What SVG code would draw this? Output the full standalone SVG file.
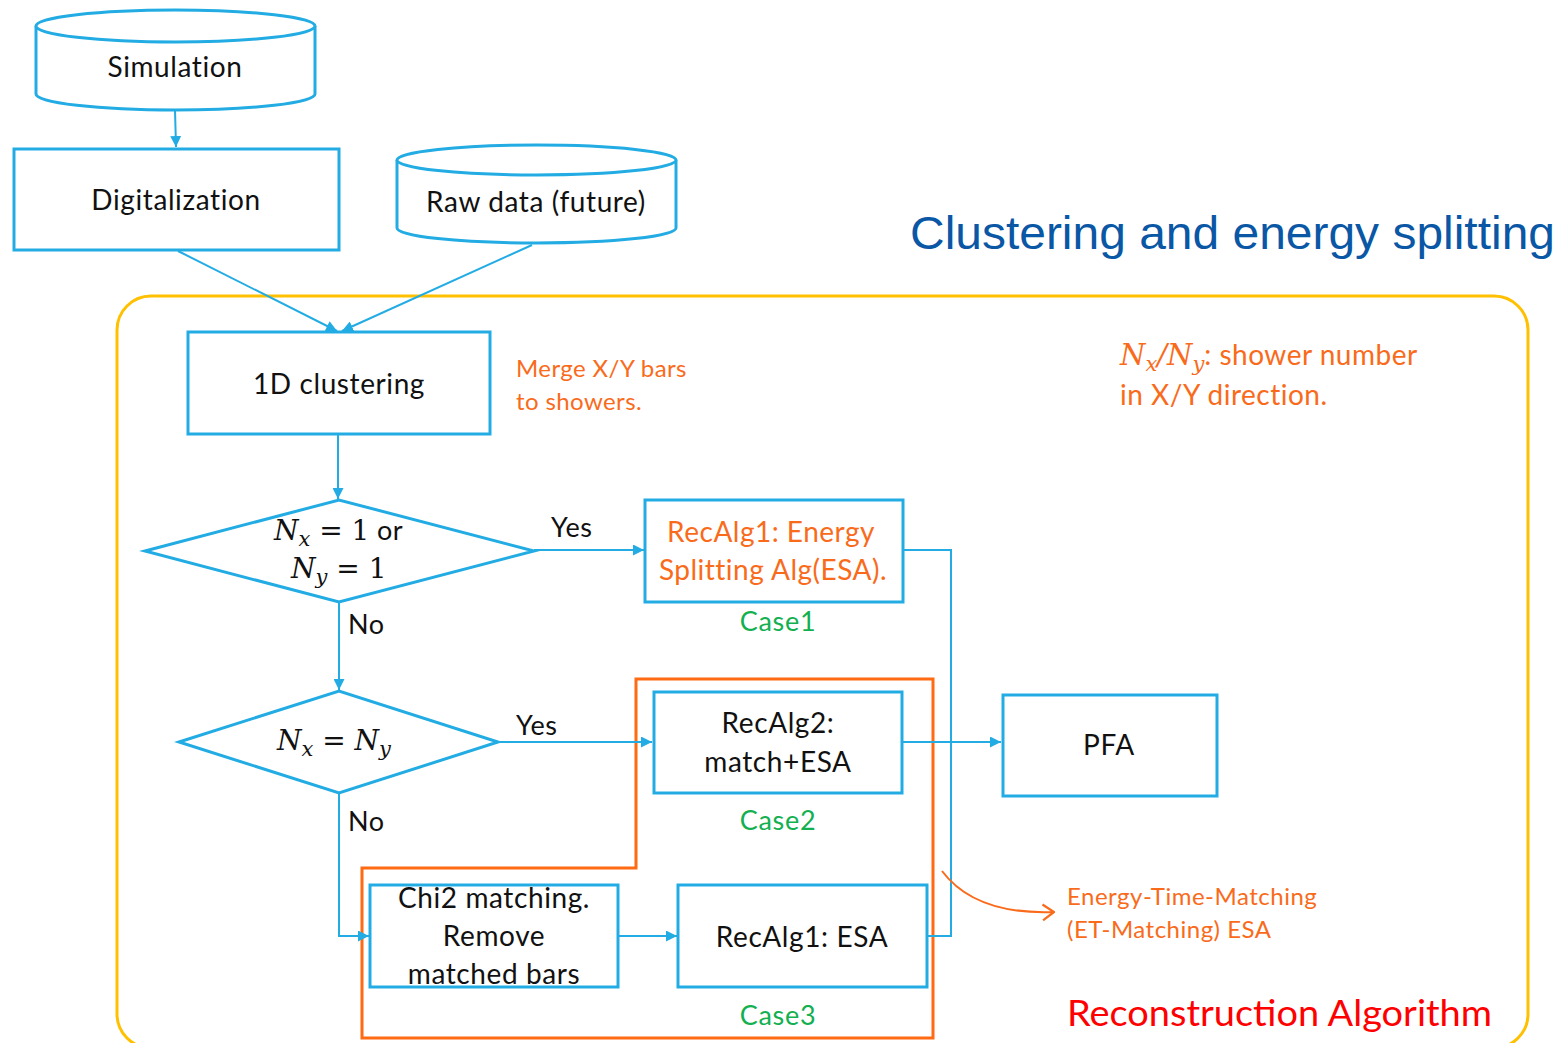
<svg xmlns="http://www.w3.org/2000/svg" width="1561" height="1043" viewBox="0 0 1561 1043">
<defs>
<style>
.box{fill:#fff;stroke:#22ACE3;stroke-width:3}
.ln{fill:none;stroke:#22ACE3;stroke-width:2}
.t{font-family:Lato,"Open Sans","Noto Sans",sans-serif;font-size:28px;letter-spacing:0.6px;fill:#111;text-anchor:middle}
.lbl{font-family:Lato,"Open Sans","Noto Sans",sans-serif;font-size:27px;letter-spacing:0.6px;fill:#111}
.or{fill:#F96B1B}
.s{font-family:Lato,"Open Sans","Noto Sans",sans-serif}
.case{font-family:Lato,"Open Sans","Noto Sans",sans-serif;font-size:27px;letter-spacing:0.7px;fill:#12B050;text-anchor:middle}
.m{font-family:"DejaVu Serif","Liberation Serif",serif;font-style:italic}
.mr{font-family:"DejaVu Serif","Liberation Serif",serif;font-style:normal}
</style>
<marker id="a" viewBox="0 0 10 10" refX="10" refY="5" markerWidth="11" markerHeight="11" markerUnits="userSpaceOnUse" orient="auto">
<path d="M0,0 L10,5 L0,10 z" fill="#22ACE3"/>
</marker>
<marker id="o" viewBox="0 0 12 16" refX="11" refY="8" markerWidth="14" markerHeight="18" markerUnits="userSpaceOnUse" orient="auto">
<path d="M1,1 L11,8 L1,15" fill="none" stroke="#F96B1B" stroke-width="2"/>
</marker>
</defs>
<rect width="1561" height="1043" fill="#fff"/>

<g id="title"><text x="910" y="249" font-family="'Liberation Sans',Arial,sans-serif" font-size="46" fill="#0A57A5" textLength="645" lengthAdjust="spacingAndGlyphs">Clustering and energy splitting</text></g>

<g id="recon-area">
<rect x="117" y="296" width="1411" height="752" rx="34" fill="none" stroke="#FFC000" stroke-width="3"/>
<text x="1067" y="1026" class="s" font-size="37" fill="#FF0000" textLength="425" lengthAdjust="spacingAndGlyphs">Reconstruction Algorithm</text>
</g>

<g id="etm-box"><path d="M636,679 H933 V1038 H362 V868 H636 Z" fill="none" stroke="#FF6A13" stroke-width="3"/></g>

<g id="connectors">
<line class="ln" x1="175" y1="110" x2="176" y2="147" marker-end="url(#a)"/>
<line class="ln" x1="178" y1="251" x2="337" y2="331" marker-end="url(#a)"/>
<line class="ln" x1="532" y1="245" x2="342" y2="331" marker-end="url(#a)"/>
<line class="ln" x1="338" y1="434" x2="338" y2="499" marker-end="url(#a)"/>
<line class="ln" x1="534" y1="550" x2="644" y2="550" marker-end="url(#a)"/>
<line class="ln" x1="339" y1="602" x2="339" y2="690" marker-end="url(#a)"/>
<line class="ln" x1="498" y1="742" x2="652" y2="742" marker-end="url(#a)"/>
<polyline class="ln" points="339,793 339,936 369,936" marker-end="url(#a)"/>
<line class="ln" x1="618" y1="936" x2="677" y2="936" marker-end="url(#a)"/>
<polyline class="ln" points="903,550 951,550 951,936 928,936"/>
<line class="ln" x1="902" y1="742" x2="1001" y2="742" marker-end="url(#a)"/>
<path d="M942,871 Q975,915 1054,912" fill="none" stroke="#F96B1B" stroke-width="2" marker-end="url(#o)"/>
<text class="lbl" x="551" y="537">Yes</text>
<text class="lbl" x="348" y="634">No</text>
<text class="lbl" x="516" y="735">Yes</text>
<text class="lbl" x="348" y="831">No</text>
</g>

<g id="simulation">
<path class="box" d="M36,26 V94 A139.5,16 0 0 0 315,94 V26"/>
<ellipse class="box" cx="175.5" cy="26" rx="139.5" ry="16"/>
<text class="t" x="175" y="77">Simulation</text>
</g>

<g id="digitalization">
<rect class="box" x="14" y="149" width="325" height="101"/>
<text class="t" x="176" y="210">Digitalization</text>
</g>

<g id="rawdata">
<path class="box" d="M397,160 V228 A139.5,15 0 0 0 676,228 V160"/>
<ellipse class="box" cx="536.5" cy="160" rx="139.5" ry="15"/>
<text class="t" x="536" y="212">Raw data (future)</text>
</g>

<g id="clustering">
<rect class="box" x="188" y="332" width="302" height="102"/>
<text class="t" x="339" y="394">1D clustering</text>
<text x="516" y="377" class="s or" font-size="24" letter-spacing="0.4">Merge X/Y bars</text>
<text x="516" y="410" class="s or" font-size="24" letter-spacing="0.4">to showers.</text>
</g>

<g id="note">
<text x="1120" y="365" font-size="29" class="or"><tspan class="m">N</tspan><tspan class="m" font-size="21" dy="6">x</tspan><tspan class="m" dy="-6">/N</tspan><tspan class="m" font-size="21" dy="6">y</tspan><tspan class="s" font-size="28" letter-spacing="0.5" dy="-6">: shower number</tspan></text>
<text x="1120" y="405" class="s or" font-size="28" letter-spacing="0.5">in X/Y direction.</text>
</g>

<g id="decision1">
<polygon class="box" points="145,551 339,500 534,551 339,602"/>
<text x="274" y="540" font-size="28" fill="#111"><tspan class="m">N</tspan><tspan class="m" font-size="21" dy="6">x</tspan><tspan class="mr" dy="-6"> = 1</tspan><tspan class="s" font-size="27" letter-spacing="0.6"> or</tspan></text>
<text x="291" y="578" font-size="28" fill="#111"><tspan class="m">N</tspan><tspan class="m" font-size="21" dy="6">y</tspan><tspan class="mr" dy="-6"> = 1</tspan></text>
</g>

<g id="recalg1">
<rect class="box" x="645" y="500" width="258" height="102"/>
<text x="771" y="542" class="s or" font-size="28" letter-spacing="0.5" text-anchor="middle">RecAlg1: Energy</text>
<text x="773" y="580" class="s or" font-size="28" letter-spacing="0.5" text-anchor="middle">Splitting Alg(ESA).</text>
<text class="case" x="778" y="631">Case1</text>
</g>

<g id="decision2">
<polygon class="box" points="179,742 339,691 498,742 339,793"/>
<text x="277" y="750" font-size="28" fill="#111"><tspan class="m">N</tspan><tspan class="m" font-size="21" dy="6">x</tspan><tspan class="mr" dy="-6"> = </tspan><tspan class="m">N</tspan><tspan class="m" font-size="21" dy="6">y</tspan></text>
</g>

<g id="recalg2">
<rect class="box" x="654" y="692" width="248" height="101"/>
<text class="t" x="778" y="733">RecAlg2:</text>
<text class="t" x="778" y="772">match+ESA</text>
<text class="case" x="778" y="830">Case2</text>
</g>

<g id="pfa">
<rect class="box" x="1003" y="695" width="214" height="101"/>
<text class="t" x="1109" y="755">PFA</text>
</g>

<g id="chi2">
<rect class="box" x="370" y="885" width="248" height="102"/>
<text class="t" x="494" y="908">Chi2 matching.</text>
<text class="t" x="494" y="946">Remove</text>
<text class="t" x="494" y="984">matched bars</text>
</g>

<g id="recalg1esa">
<rect class="box" x="678" y="885" width="249" height="102"/>
<text class="t" x="802" y="947">RecAlg1: ESA</text>
<text class="case" x="778" y="1025">Case3</text>
</g>

<g id="etm-label">
<text x="1067" y="905" class="s or" font-size="24" letter-spacing="0.5">Energy-Time-Matching</text>
<text x="1067" y="938" class="s or" font-size="24" letter-spacing="0.5">(ET-Matching) ESA</text>
</g>
</svg>
